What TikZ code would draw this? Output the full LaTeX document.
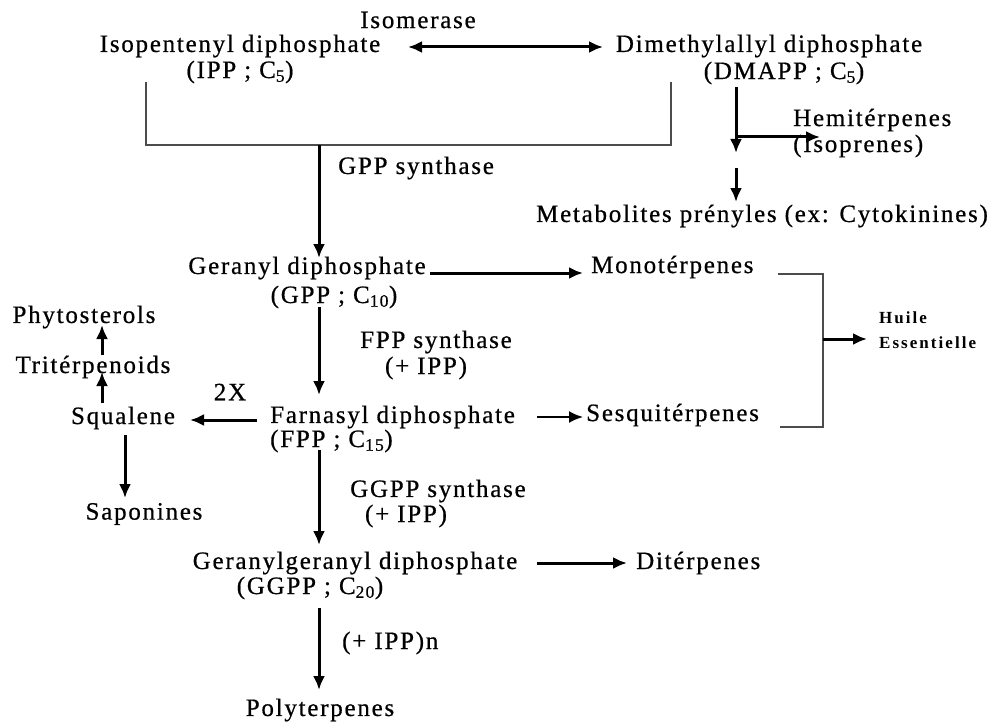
\documentclass[tikz,border=0pt]{standalone}
\usepackage{fontspec}
\setmainfont[LetterSpace=7,FakeBold=0.6]{Liberation Serif}
\newfontfamily\smallfam[LetterSpace=12]{Liberation Serif}
\usetikzlibrary{arrows.meta}
\begin{document}
\begin{tikzpicture}[x=1pt,y=-1pt,
  txt/.style={inner sep=0pt,font=\fontsize{25}{29}\selectfont},
  small/.style={inner sep=0pt,font=\smallfam\fontsize{17}{19}\selectfont\bfseries},
  arr/.style={line width=3pt,-{Latex[length=14pt,width=12pt]}},
  darr/.style={line width=3pt,{Latex[length=14pt,width=12pt]}-{Latex[length=14pt,width=12pt]}},
  brk/.style={line width=2.6pt,draw=black!70}]
\useasboundingbox (0,0) rectangle (992,722);
% nodes
\node[txt] (isom) at (418,20) {Isomerase};
\node[txt] (ipp1) at (240,46) {Isopentenyl diphosphate};
\node[txt] (ipp2) at (240,72) {(IPP ; C\textsubscript{5})};
\node[txt] (dma1) at (769,46) {Dimethylallyl diphosphate};
\node[txt] (dma2) at (784,73) {(DMAPP ; C\textsubscript{5})};
\node[txt,anchor=west] (hemi1) at (793,120) {Hemitérpenes};
\node[txt,anchor=west] (hemi2) at (793,146) {(Isoprenes)};
\node[txt,anchor=west] (gpps) at (338,168) {GPP synthase};
\node[txt] (meta) at (762,216) {Metabolites prényles (ex: Cytokinines)};
\node[txt] (gpp1) at (307,268) {Geranyl diphosphate};
\node[txt] (gpp2) at (334,297) {(GPP ; C\textsubscript{10})};
\node[txt,anchor=west] (mono) at (591,267) {Monotérpenes};
\node[txt] (fpps) at (436,342) {FPP synthase};
\node[txt] (fppp) at (426,368) {(+ IPP)};
\node[txt] (phyto) at (84,317) {Phytosterols};
\node[txt] (trit) at (93,367) {Tritérpenoids};
\node[txt] (twox) at (230,392) {2X};
\node[txt] (squal) at (123,418) {Squalene};
\node[txt,anchor=west] (fpp1) at (270,417) {Farnasyl diphosphate};
\node[txt,anchor=west] (fpp2) at (270,441) {(FPP ; C\textsubscript{15})};
\node[txt,anchor=west] (sesq) at (586,415) {Sesquitérpenes};
\node[small,anchor=west] (huile) at (879,318) {Huile};
\node[small,anchor=west] (ess) at (879,343) {Essentielle};
\node[txt] (sapo) at (144,514) {Saponines};
\node[txt,anchor=west] (ggpps) at (350,491) {GGPP synthase};
\node[txt] (ggppp) at (406,516) {(+ IPP)};
\node[txt] (ggpp1) at (355,563) {Geranylgeranyl diphosphate};
\node[txt] (ggpp2) at (310,588) {(GGPP ; C\textsubscript{20})};
\node[txt,anchor=west] (dit) at (636,563) {Ditérpenes};
\node[txt,anchor=west] (ipn) at (342,643) {(+ IPP)n};
\node[txt] (poly) at (320,710) {Polyterpenes};
% coordinates
\coordinate (bl) at (146,82);
\coordinate (blc) at (146,145);
\coordinate (brc) at (671,145);
\coordinate (br) at (671,82);
\coordinate (jn) at (319,145);
\coordinate (dtop) at (736,87);
\coordinate (dbr) at (736,137);
\coordinate (dbot) at (736,153);
\coordinate (dm1) at (736,168);
\coordinate (dm2) at (736,202);
\coordinate (mt) at (778,274);
\coordinate (mtc) at (823,274);
\coordinate (sb) at (780,427);
\coordinate (sbc) at (823,427);
\coordinate (hm) at (823,339);
% connectors
\draw[darr] (408,47) -- (603,47);
\draw[brk] (bl) -- (blc) -- (brc) -- (br);
\draw[arr] (jn) -- (319,258);
\draw[arr] (dtop) -- (dbot);
\draw[arr] (dbr) -- (820,137);
\draw[arr] (dm1) -- (dm2);
\draw[arr] (430,273) -- (583,273);
\draw[arr] (319,307) -- (319,395);
\draw[brk] (mt) -- (mtc) -- (sbc) -- (sb);
\draw[arr] (hm) -- (867,339);
\draw[arr] (102,403) -- (102,372);
\draw[arr] (102,355) -- (102,325);
\draw[arr] (257,420) -- (190,420);
\draw[arr] (125,435) -- (125,498);
\draw[arr] (319,450) -- (319,545);
\draw[arr,line width=2pt] (537,417) -- (583,417);
\draw[arr] (537,563) -- (627,563);
\draw[arr] (319,608) -- (319,690);
\end{tikzpicture}
\end{document}
